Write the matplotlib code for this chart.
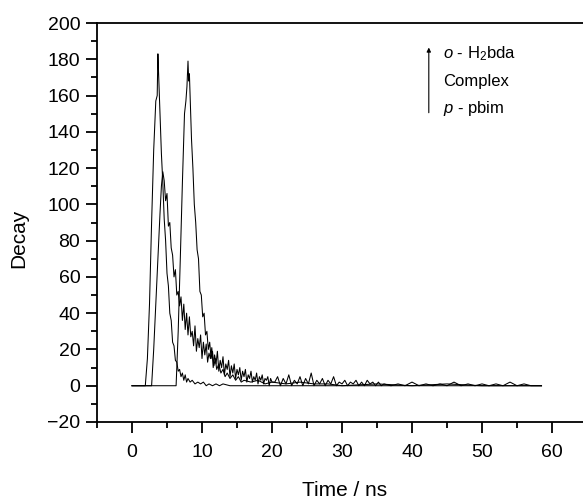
import numpy as np
import matplotlib
matplotlib.use("Agg")
import matplotlib.pyplot as plt
from matplotlib.ticker import MultipleLocator

plt.rcParams['font.family'] = ['Liberation Sans', 'DejaVu Sans']
plt.rcParams['mathtext.fontset'] = 'custom'
plt.rcParams['mathtext.rm'] = 'Liberation Sans'
plt.rcParams['mathtext.it'] = 'Liberation Sans:italic'

# fast decay (sharp peak near 3.7 ns)
t_fast = [0, 1.9, 2.2, 2.5, 2.8, 3.1, 3.4, 3.6, 3.7, 3.8,
          4.0, 4.2, 4.4, 4.6, 4.8, 5.0, 5.2, 5.4, 5.6, 5.8,
          6.0, 6.2, 6.4, 6.6, 6.8, 7.0, 7.2, 7.4, 7.6, 7.8,
          8.0, 8.3, 8.6, 9.0, 9.4, 9.8, 10.2, 10.6, 11.0, 11.5,
          12.0, 12.5, 13.0, 14, 15, 17, 20, 25, 30, 35,
          40, 45, 50, 55, 58.5]
y_fast = [0, 0, 15, 45, 90, 130, 157, 160, 183, 172,
          150, 128, 112, 92, 80, 62, 55, 40, 36, 24,
          22, 14, 13, 8, 9, 5, 7, 3, 6, 2,
          4, 2, 3, 1, 2, 1, 2, 0, 1, 0,
          1, 0, 1, 0, 0, 0, 0, 0, 0, 0,
          0, 0, 0, 0, 0]

# slow decay with long noisy tail (peak near 4.4 ns)
t_slow_rise = [0, 2.8, 3.1, 3.4, 3.7, 4.0, 4.2, 4.4]
y_slow_rise = [0, 0, 20, 45, 70, 95, 110, 118]
t_slow_mid = np.round(np.arange(4.6, 20.01, 0.2), 1)
y_slow_mid = [113, 102, 106, 88, 90, 76, 72, 60, 64, 50,
              52, 44, 49, 36, 45, 31, 40, 28, 38, 27,
              30, 22, 33, 19, 26, 21, 28, 15, 24, 17,
              23, 13, 18, 15, 21, 10, 17, 12, 19, 8,
              14, 10, 16, 6, 12, 9, 14, 5, 11, 7,
              12, 4, 9, 6, 10, 3, 8, 5, 9, 2,
              6, 4, 8, 2, 5, 3, 7, 1, 5, 3,
              6, 1, 4, 3, 5, 0, 4, 2]
t_slow_tail = np.round(np.arange(20.4, 36.01, 0.4), 1)
y_slow_tail = [2, 5, 0, 4, 1, 6, 0, 3, 1, 5,
               0, 4, 1, 7, 0, 3, 1, 4, 0, 3,
               1, 5, 0, 2, 1, 3, 0, 2, 1, 3,
               0, 2, 0, 3, 1, 2, 0, 2, 0, 1]
t_slow_end = list(range(37, 59)) + [58.5]
y_slow_end = [0, 1, 0, 2, 0, 1, 0, 1, 0, 2,
              0, 1, 0, 1, 0, 1, 0, 2, 0, 1,
              0, 0, 0]

# delayed peak near 8 ns
t_late = [0, 6.3, 6.6, 6.9, 7.2, 7.5, 7.7, 7.85, 8.0, 8.1,
          8.2, 8.3, 8.5, 8.7, 8.9, 9.1, 9.3, 9.5, 9.7, 9.9,
          10.1, 10.3, 10.5, 10.7, 10.9, 11.1, 11.3, 11.5, 11.7, 11.9,
          12.1, 12.4, 12.7, 13.0, 13.3, 13.6, 14.0, 14.4, 14.8, 15.2,
          15.6, 16.0, 17, 18, 19, 20, 22, 24, 26, 28,
          30, 35, 40, 45, 50, 55, 58.5]
y_late = [0, 0, 30, 70, 112, 150, 157, 165, 179, 168,
          172, 160, 136, 120, 100, 90, 75, 70, 52, 50,
          38, 40, 28, 30, 20, 24, 15, 19, 11, 15,
          9, 12, 7, 9, 5, 7, 4, 6, 3, 5,
          2, 3, 2, 3, 1, 2, 1, 2, 1, 1,
          0, 1, 0, 1, 0, 0, 0]

t_slow = np.concatenate([t_slow_rise, t_slow_mid, t_slow_tail, t_slow_end])
y_slow = np.concatenate([y_slow_rise, y_slow_mid, y_slow_tail, y_slow_end])

fig = plt.figure(figsize=(5.83, 5.01), dpi=100)
ax = fig.add_axes([97 / 583, 1 - 422 / 501, 490 / 583, 399 / 501])

ax.plot(t_fast, y_fast, color='black', lw=0.75)
ax.plot(t_slow, y_slow, color='black', lw=0.75)
ax.plot(t_late, y_late, color='black', lw=0.75)

ax.set_xlim(-5, 65)
ax.set_ylim(-20, 200)
ax.xaxis.set_major_locator(MultipleLocator(10))
ax.xaxis.set_minor_locator(MultipleLocator(5))
ax.yaxis.set_major_locator(MultipleLocator(20))
ax.yaxis.set_minor_locator(MultipleLocator(10))
ax.tick_params(axis='both', which='major', length=8, width=1.3, labelsize=14)
ax.tick_params(axis='both', which='minor', length=4.5, width=1.3)
ax.tick_params(axis='x', which='major', pad=8)
ax.tick_params(axis='y', which='major', pad=4)
for side in ['left', 'bottom', 'top', 'right']:
    ax.spines[side].set_linewidth(1.3)

fig.text(19 / 583, 1 - 238 / 501, 'Decay', rotation=90, ha='center', va='center', fontsize=15)
fig.text(345 / 583, 1 - 490 / 501, 'Time / ns', ha='center', va='center', fontsize=15)

ax.annotate('', xy=(42.4, 188), xytext=(42.4, 149),
            arrowprops=dict(arrowstyle='-|>', lw=0.8, color='black', mutation_scale=6))
ax.text(44.4, 183, r'$\it{o}$ - H$_2$bda', fontsize=12, va='center')
ax.text(44.4, 167.5, 'Complex', fontsize=12, va='center')
ax.text(44.4, 153, r'$\it{p}$ - pbim', fontsize=12, va='center')

fig.savefig('out.png', dpi=100)
